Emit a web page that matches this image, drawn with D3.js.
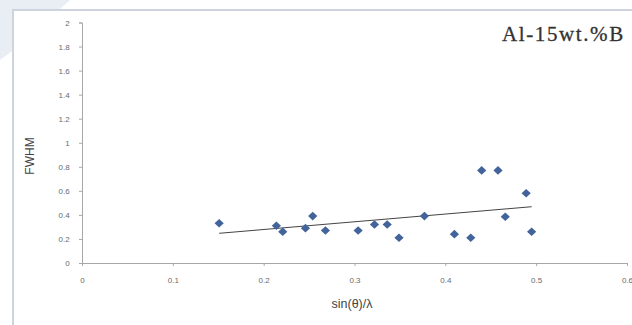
<!DOCTYPE html>
<html><head><meta charset="utf-8">
<script src="https://cdn.jsdelivr.net/npm/d3@7"></script>
<style>body{margin:0;background:#fff}svg{display:block}</style>
</head><body><svg id="c" width="632" height="325"></svg>
<script>
const xs = [0.151,0.214,0.221,0.246,0.254,0.268,0.304,0.322,0.336,0.349,0.377,0.410,0.428,0.440,0.458,0.466,0.489,0.495];
const ys = [0.33,0.31,0.26,0.29,0.39,0.27,0.27,0.32,0.32,0.21,0.39,0.24,0.21,0.77,0.77,0.385,0.58,0.26];
const trendX = [0.151,0.495];
const trendY = [0.247,0.468];
const xTicks = [0,0.1,0.2,0.3,0.4,0.5,0.6];
const yTicks = [0,0.2,0.4,0.6,0.8,1,1.2,1.4,1.6,1.8,2];
const label = "Al-15wt.%B";

const svg = d3.select("#c");
// decoration
svg.append("polygon").attr("points","0,0 70,0 20,45 0,60").attr("fill","#dfe6f0").attr("opacity",0.7);
svg.append("rect").attr("x",13).attr("y",10).attr("width",640).attr("height",340).attr("fill","#fff").attr("stroke","#cdd4de").attr("stroke-width",2);

const x = d3.scaleLinear().domain([0,0.6]).range([82,627]);
const y = d3.scaleLinear().domain([0,2]).range([263,22.5]);

const gx = svg.append("g").attr("transform","translate(0,263)")
  .call(d3.axisBottom(x).tickValues(xTicks).tickSize(3).tickFormat(d=>d3.format("")(d)));
const gy = svg.append("g").attr("transform","translate(82,0)")
  .call(d3.axisLeft(y).tickValues(yTicks).tickSize(3).tickFormat(d=>d3.format("")(d)));
[gx,gy].forEach(g=>{
  g.select(".domain").attr("stroke","#a8a8a8");
  g.selectAll(".tick line").attr("stroke","#a8a8a8");
  g.selectAll("text").attr("fill","#6a6a6a").attr("font-family","Liberation Sans, sans-serif").attr("font-size",8);
});
gx.selectAll("text").attr("dy","1.8em");
gy.selectAll("text").attr("dx","-0.8em");

svg.append("line").attr("x1",x(trendX[0])).attr("y1",y(trendY[0]))
  .attr("x2",x(trendX[1])).attr("y2",y(trendY[1])).attr("stroke","#444").attr("stroke-width",1);

const dia = "M0,-4.3L4.6,0L0,4.3L-4.6,0Z";
svg.selectAll(".pt").data(xs.map((v,i)=>[v,ys[i]])).enter().append("path")
  .attr("d",dia).attr("transform",d=>`translate(${x(d[0])},${y(d[1])})`)
  .attr("fill","#42649a");

svg.append("text").attr("transform","translate(34,156) rotate(-90)").attr("text-anchor","middle")
  .attr("font-family","Liberation Sans, sans-serif").attr("font-size",12).attr("fill","#444").text("FWHM");
svg.append("text").attr("x",352).attr("y",308).attr("text-anchor","middle")
  .attr("font-family","Liberation Sans, sans-serif").attr("font-size",12.5).attr("fill","#444").text("sin(θ)/λ");
svg.append("text").attr("x",502).attr("y",41).attr("font-family","Liberation Serif, serif")
  .attr("font-size",21).attr("letter-spacing",1.6).attr("stroke","#333").attr("stroke-width",0.3)
  .attr("fill","#333").text(label);
</script></body></html>
